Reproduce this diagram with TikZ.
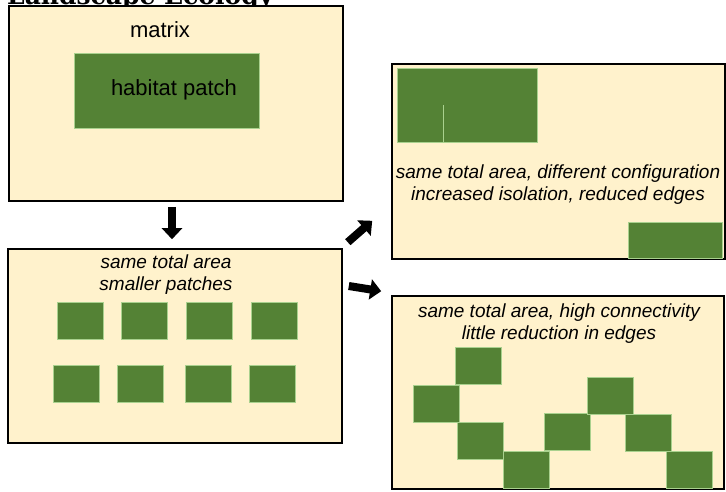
\documentclass[tikz,border=0pt]{standalone}
\usepackage{fontspec}
\setmainfont{Liberation Sans}
\newfontfamily\titlefont{DejaVu Serif}
\usetikzlibrary{arrows.meta}

\definecolor{matrixfill}{RGB}{255,242,204}
\definecolor{patchgreen}{RGB}{84,130,53}
\definecolor{patchedge}{RGB}{169,209,142}

\tikzset{
    landbox/.style={draw=black, line width=1.6pt, fill=matrixfill, inner sep=0pt},
    patch/.style={draw=patchedge, line width=0.6pt, fill=patchgreen},
    notetext/.style={font=\fontsize{19}{22}\selectfont\itshape, align=center, inner sep=0pt},
    plaintext/.style={font=\fontsize{22}{26}\selectfont, inner sep=0pt},
    blockarrow/.style={line width=8pt, -{Triangle[width=20pt,length=11pt]}},
}

\begin{document}
\begin{tikzpicture}[x=1pt, y=-1pt]
    \useasboundingbox[fill=white] (0,0) rectangle (726,491);

    % Heading, cut at the top edge
    \node[anchor=base west, inner sep=0pt, font=\titlefont\bfseries\fontsize{25}{25}\selectfont] (title) at (7,4) {Landscape Ecology};

    % Four landscapes
    \node[landbox, minimum width=334pt, minimum height=195pt] (matrixbox) at (176,103.5) {};
    \node[landbox, minimum width=334pt, minimum height=194pt] (splitbox) at (175,346) {};
    \node[landbox, minimum width=333pt, minimum height=195pt] (clusterbox) at (558.5,161.5) {};
    \node[landbox, minimum width=332pt, minimum height=193pt] (chainbox) at (558,392.5) {};

    % One large patch
    \draw[patch] (74,53) rectangle (259,128);
    \node[plaintext] (matrixlabel) at (160,30) {matrix};
    \node[plaintext] (patchlabel) at (174,90) {habitat patch};

    % Eight small patches
    \foreach \x/\y in {57/302, 121/302, 186/302, 251/302, 53/365, 117/365, 185/365, 249/365}
        \draw[patch] (\x,\y) rectangle ++(46,37);
    \node[notetext] (splitnote) at (166,275) {same total area\\smaller patches};

    % Clumped patches
    \draw[patch] (397,68) rectangle (537,142);
    \draw[patchedge, line width=0.6pt] (443,105) -- (443,142);
    \draw[patch] (628,222) rectangle (722,258);
    \node[notetext] (clusternote) at (558,185) {same total area, different configuration\\increased isolation, reduced edges};

    % Stepping-stone patches
    \foreach \x/\y in {455/347, 413/385, 457/422, 503/451, 544/413, 587/377, 625/414, 666/451}
        \draw[patch] (\x,\y) rectangle ++(46,37);
    \node[notetext] (chainnote) at (559,323.5) {same total area, high connectivity\\little reduction in edges};

    % Arrows
    \draw[blockarrow] ([xshift=-4pt, yshift=-5pt]matrixbox.south) -- ([xshift=-3pt, yshift=9pt]splitbox.north);
    \draw[blockarrow] ([xshift=5pt, yshift=6pt]splitbox.north east) -- ([xshift=-19pt, yshift=39pt]clusterbox.south west);
    \draw[blockarrow] ([xshift=6pt, yshift=60pt]splitbox.east) -- ([xshift=-10pt, yshift=4pt]chainbox.north west);
\end{tikzpicture}
\end{document}
